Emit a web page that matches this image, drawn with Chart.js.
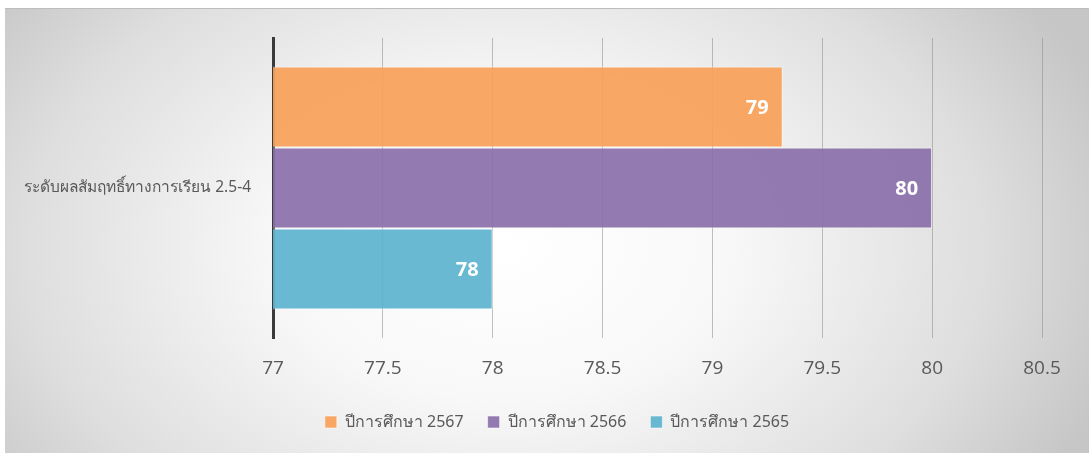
<!DOCTYPE html>
<html lang="th">
<head>
<meta charset="UTF-8">
<title>ระดับผลสัมฤทธิ์ทางการเรียน</title>
<script src="https://cdn.jsdelivr.net/npm/chart.js@4.4.1/dist/chart.umd.min.js"></script>
<style>
  html, body { margin: 0; padding: 0; background: #fff; }
  #wrap { position: relative; width: 1089px; height: 455px; }
  #bg {
    position: absolute; left: 5px; top: 8px; width: 1084px; height: 444px;
    border-top: 1px solid #bdbdbd;
    background: radial-gradient(ellipse 640px 430px at 500px 240px, #ffffff 0%, #f8f8f8 35%, #dedede 75%, #c6c6c6 100%);
  }
  canvas { position: absolute; left: 0; top: 0; }
</style>
</head>
<body>
<div id="wrap">
  <div id="bg"></div>
  <canvas id="myChart" width="1089" height="455"></canvas>
</div>
<script>
// ข้อมูลของกราฟ
const categories = ['ระดับผลสัมฤทธิ์ทางการเรียน 2.5-4'];
const seriesNames = ['ปีการศึกษา 2567', 'ปีการศึกษา 2566', 'ปีการศึกษา 2565'];
const values2567 = [79.32];
const values2566 = [80];
const values2565 = [78];
const xTicks = [77, 77.5, 78, 78.5, 79, 79.5, 80, 80.5];

const colors = ['rgba(247,160,88,0.93)', 'rgba(139,112,170,0.93)', 'rgba(93,180,205,0.93)'];

// ป้ายตัวเลขในแท่ง (ไม่มี datalabels plugin)
const barLabels = {
  id: 'barLabels',
  afterLayout(chart) {
    // เลื่อน legend ไปทางขวาเล็กน้อยให้ตรงกับต้นฉบับ
    chart.legend.left += 32;
    chart.legend.right += 32;
  },
  afterDatasetsDraw(chart) {
    const ctx = chart.ctx;
    ctx.save();
    ctx.font = 'bold 20px "Open Sans", sans-serif';
    ctx.fillStyle = '#ffffff';
    ctx.textAlign = 'right';
    ctx.textBaseline = 'middle';
    chart.data.datasets.forEach((ds, i) => {
      chart.getDatasetMeta(i).data.forEach((bar, j) => {
        ctx.fillText(Math.round(ds.data[j]), bar.x - 14, bar.y + 1);
      });
    });
    ctx.restore();
  }
};

const ctx = document.getElementById('myChart').getContext('2d');
new Chart(ctx, {
  type: 'bar',
  data: {
    labels: categories,
    datasets: [
      { label: seriesNames[0], data: values2567, backgroundColor: colors[0] },
      { label: seriesNames[1], data: values2566, backgroundColor: colors[1] },
      { label: seriesNames[2], data: values2565, backgroundColor: colors[2] }
    ].map(d => Object.assign(d, {
      borderColor: 'rgba(255,255,255,0.55)',
      borderWidth: 1,
      categoryPercentage: 0.81,
      barPercentage: 1
    }))
  },
  options: {
    indexAxis: 'y',
    responsive: false,
    animation: false,
    layout: { padding: { top: 38, right: 47, left: 8, bottom: 15 } },
    plugins: {
      legend: {
        position: 'bottom',
        labels: {
          color: '#595959',
          font: { family: '"Noto Sans", "Open Sans", sans-serif', size: 16 },
          boxWidth: 12,
          boxHeight: 12,
          padding: 24
        }
      },
      tooltip: { enabled: false }
    },
    scales: {
      x: {
        min: 77,
        max: 80.5,
        afterBuildTicks: s => { s.ticks = xTicks.map(v => ({ value: v })); },
        ticks: {
          color: '#595959',
          font: { family: '"Open Sans", sans-serif', size: 19 },
          padding: 19,
          callback: v => String(v)
        },
        grid: { color: 'rgba(140,140,140,0.55)', drawTicks: false },
        border: { display: false },
        afterFit: s => { s.height = 52; }
      },
      y: {
        ticks: {
          color: '#595959',
          font: { family: '"Noto Sans", sans-serif', size: 15.5 },
          padding: 22
        },
        grid: { display: false, drawTicks: false },
        border: { display: true, color: '#3a3a3a', width: 3 },
        afterFit: s => { s.width = 265; }
      }
    }
  },
  plugins: [barLabels]
});
</script>
</body>
</html>
